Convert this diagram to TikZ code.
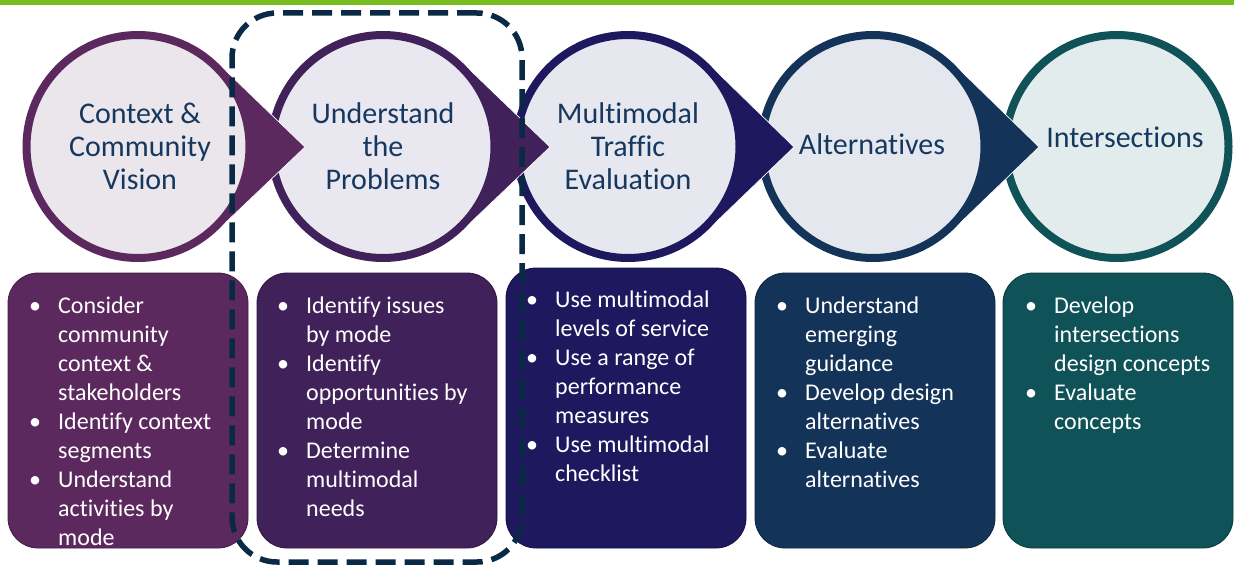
\documentclass[tikz,border=0pt]{standalone}
\usepackage{fontspec}
\setmainfont{Carlito}[Ligatures=NoCommon]
\definecolor{greenbar}{HTML}{78BE20}
\definecolor{dA}{HTML}{5C295E}
\definecolor{dB}{HTML}{40215A}
\definecolor{dC}{HTML}{1E195E}
\definecolor{dD}{HTML}{143359}
\definecolor{dE}{HTML}{0F5257}
\definecolor{lA}{HTML}{EBE6EC}
\definecolor{lB}{HTML}{E9E7EF}
\definecolor{lC}{HTML}{E6E7EF}
\definecolor{lD}{HTML}{E4E8EE}
\definecolor{lE}{HTML}{E3ECEC}
\definecolor{navytext}{HTML}{16385F}
\definecolor{dashcol}{HTML}{0A2945}
\newcommand\bitem{\makebox[29pt][l]{\textbullet}}
\newcommand\bcont{\hspace*{29pt}}
\tikzset{
  stagecircle/.style={circle, minimum size=223pt, inner sep=0pt, line width=8pt},
  arrowedge/.style={white, line width=0.7pt},
  stagetext/.style={text=navytext, align=center, inner sep=0pt, font=\fontsize{30}{33}\selectfont},
  stepbox/.style={rounded corners=30pt, inner sep=0pt, minimum width=240pt, minimum height=275pt, line width=0.8pt},
  boxtext/.style={text=white, align=left, inner sep=0pt, anchor=north west, font=\fontsize{24}{29}\selectfont},
  focusbox/.style={draw=dashcol, line width=5.5pt, rounded corners=45pt, dash pattern=on 20pt off 9pt, minimum width=290pt, minimum height=549pt, inner sep=0pt}
}
\begin{document}
\begin{tikzpicture}[x=1pt,y=-1pt]
\useasboundingbox (0,0) rectangle (1234,567);
\fill[white] (0,0) rectangle (1234,567);
\fill[greenbar] (0,0) rectangle (1234,5);

% stage 5
\node[stagecircle, draw=dE, fill=lE] (s5) at (1117,146.5) {};
% stage 4
\fill[dD] (953.4,63.6) -- (1039,147) -- (953.4,229.4) -- (873,146.5) -- cycle;
\draw[arrowedge] (953.4,63.6) -- (1039,147) -- (953.4,229.4);
\node[stagecircle, draw=dD, fill=lD] (s4) at (873,146.5) {};
% stage 3
\fill[dC] (708.4,63.6) -- (794,147) -- (708.4,229.4) -- (628,146.5) -- cycle;
\draw[arrowedge] (708.4,63.6) -- (794,147) -- (708.4,229.4);
\node[stagecircle, draw=dC, fill=lC] (s3) at (628,146.5) {};
% stage 2
\fill[dB] (463.4,63.6) -- (550,147) -- (463.4,229.4) -- (383,146.5) -- cycle;
\draw[arrowedge] (463.4,63.6) -- (550,147) -- (463.4,229.4);
\node[stagecircle, draw=dB, fill=lB] (s2) at (383,146.5) {};
% stage 1
\fill[dA] (218.4,63.6) -- (305,147) -- (218.4,229.4) -- (138,146.5) -- cycle;
\draw[arrowedge] (218.4,63.6) -- (305,147) -- (218.4,229.4);
\node[stagecircle, draw=dA, fill=lA] (s1) at (138,146.5) {};

\node[stagetext] (t1) at (140,146) {Context \&\\Community\\Vision};
\node[stagetext] (t2) at (383,146) {Understand\\the\\Problems};
\node[stagetext] (t3) at (628,146) {Multimodal\\Traffic\\Evaluation};
\node[stagetext, anchor=base] (t4) at (872,154) {Alternatives};
\node[stagetext, anchor=base] (t5) at (1125,147) {Intersections};

% boxes
\node[stepbox, fill=dA, draw=dA!70!black] (b1) at (128,410.5) {};
\node[stepbox, fill=dB, draw=dB!70!black] (b2) at (377,410.5) {};
\node[stepbox, fill=dC, draw=dC!70!black, minimum height=280pt] (b3) at (626,408) {};
\node[stepbox, fill=dD, draw=dD!70!black] (b4) at (875,410.5) {};
\node[stepbox, fill=dE, draw=dE!70!black, minimum width=230pt] (b5) at (1118,410.5) {};

\node[boxtext] (x1) at (29,293) {\strut\bitem Consider\\\bcont community\\\bcont context \&\\\bcont stakeholders\\\bitem Identify context\\\bcont segments\\\bitem Understand\\\bcont activities by\\\bcont mode};
\node[boxtext] (x2) at (277,293) {\strut\bitem Identify issues\\\bcont by mode\\\bitem Identify\\\bcont opportunities by\\\bcont mode\\\bitem Determine\\\bcont multimodal\\\bcont needs};
\node[boxtext] (x3) at (526,287) {\strut\bitem Use multimodal\\\bcont levels of service\\\bitem Use a range of\\\bcont performance\\\bcont measures\\\bitem Use multimodal\\\bcont checklist};
\node[boxtext] (x4) at (776,293) {\strut\bitem Understand\\\bcont emerging\\\bcont guidance\\\bitem Develop design\\\bcont alternatives\\\bitem Evaluate\\\bcont alternatives};
\node[boxtext] (x5) at (1025,293) {\strut\bitem Develop\\\bcont intersections\\\bcont design concepts\\\bitem Evaluate\\\bcont concepts};

% focus frame
\node[focusbox] (focus) at (377,287.5) {};
\end{tikzpicture}
\end{document}
